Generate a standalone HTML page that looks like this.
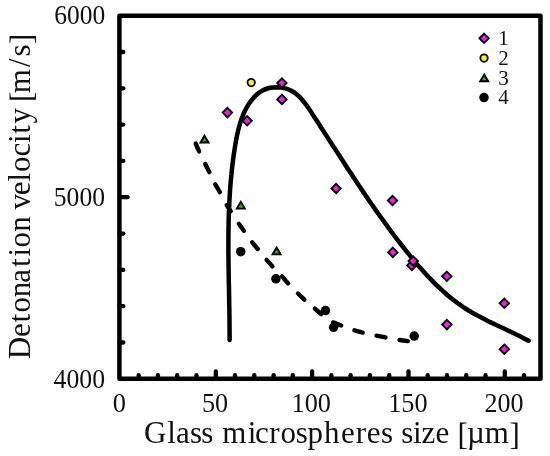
<!DOCTYPE html>
<html><head><meta charset="utf-8"><title>Detonation velocity vs glass microspheres size</title>
<style>
html,body{margin:0;padding:0;background:#fff;}
body{width:550px;height:456px;overflow:hidden;}
svg{display:block;}
text{font-family:"Liberation Serif",serif;fill:#111;}
</style></head><body>
<svg width="550" height="456" viewBox="0 0 550 456">
<rect width="550" height="456" fill="#fff"/>

<g stroke="#000" stroke-width="4.3" stroke-linecap="round">
<line x1="138.7" y1="378.8" x2="138.7" y2="375.2"/>
<line x1="157.9" y1="378.8" x2="157.9" y2="375.2"/>
<line x1="177.2" y1="378.8" x2="177.2" y2="375.2"/>
<line x1="196.5" y1="378.8" x2="196.5" y2="375.2"/>
<line x1="215.8" y1="378.8" x2="215.8" y2="371.5"/>
<line x1="235.0" y1="378.8" x2="235.0" y2="375.2"/>
<line x1="254.3" y1="378.8" x2="254.3" y2="375.2"/>
<line x1="273.6" y1="378.8" x2="273.6" y2="375.2"/>
<line x1="292.8" y1="378.8" x2="292.8" y2="375.2"/>
<line x1="312.1" y1="378.8" x2="312.1" y2="371.5"/>
<line x1="331.4" y1="378.8" x2="331.4" y2="375.2"/>
<line x1="350.6" y1="378.8" x2="350.6" y2="375.2"/>
<line x1="369.9" y1="378.8" x2="369.9" y2="375.2"/>
<line x1="389.2" y1="378.8" x2="389.2" y2="375.2"/>
<line x1="408.5" y1="378.8" x2="408.5" y2="371.5"/>
<line x1="427.7" y1="378.8" x2="427.7" y2="375.2"/>
<line x1="447.0" y1="378.8" x2="447.0" y2="375.2"/>
<line x1="466.3" y1="378.8" x2="466.3" y2="375.2"/>
<line x1="485.5" y1="378.8" x2="485.5" y2="375.2"/>
<line x1="504.8" y1="378.8" x2="504.8" y2="371.5"/>
<line x1="524.1" y1="378.8" x2="524.1" y2="375.2"/>
<line x1="119.4" y1="52.0" x2="123.3" y2="52.0"/>
<line x1="119.4" y1="88.3" x2="123.3" y2="88.3"/>
<line x1="119.4" y1="124.6" x2="123.3" y2="124.6"/>
<line x1="119.4" y1="160.9" x2="123.3" y2="160.9"/>
<line x1="119.4" y1="197.2" x2="127.6" y2="197.2"/>
<line x1="119.4" y1="233.6" x2="123.3" y2="233.6"/>
<line x1="119.4" y1="269.9" x2="123.3" y2="269.9"/>
<line x1="119.4" y1="306.2" x2="123.3" y2="306.2"/>
<line x1="119.4" y1="342.5" x2="123.3" y2="342.5"/>
</g>
<rect x="119.4" y="15.7" width="421.1" height="363.1" fill="none" stroke="#000" stroke-width="4.5" stroke-linejoin="round"/>
<g stroke="#000" stroke-width="4.4" stroke-linecap="round">
<line x1="195.7" y1="143.6" x2="199.1" y2="151.4"/>
<line x1="205.3" y1="164.0" x2="209.3" y2="172.1"/>
<line x1="215.2" y1="184.3" x2="219.9" y2="192.1"/>
<line x1="226.7" y1="205.1" x2="230.7" y2="211.2"/>
<line x1="238.8" y1="223.7" x2="243.9" y2="230.8"/>
<line x1="252.3" y1="242.3" x2="257.7" y2="249.0"/>
<line x1="266.6" y1="259.9" x2="272.4" y2="266.4"/>
<line x1="282.1" y1="276.4" x2="288.0" y2="283.4"/>
<line x1="298.0" y1="293.5" x2="304.4" y2="299.7"/>
<line x1="314.9" y1="308.7" x2="321.2" y2="314.0"/>
<line x1="333.2" y1="322.4" x2="341.2" y2="325.5"/>
<line x1="354.4" y1="330.3" x2="362.7" y2="332.6"/>
<line x1="376.5" y1="335.7" x2="385.5" y2="337.4"/>
<line x1="399.5" y1="340.0" x2="407.8" y2="341.1"/>
</g>
<path d="M229.6,340.0 C229.6,338.8 229.6,335.1 229.6,332.7 C229.6,330.3 229.6,327.9 229.5,325.5 C229.5,323.1 229.5,320.6 229.5,318.2 C229.4,315.8 229.4,313.4 229.4,311.0 C229.3,308.6 229.3,306.2 229.2,303.8 C229.2,301.4 229.2,299.0 229.1,296.6 C229.1,294.2 229.0,291.8 229.0,289.4 C228.9,287.0 228.9,284.6 228.8,282.2 C228.8,279.8 228.8,277.4 228.7,275.0 C228.7,272.6 228.6,270.3 228.6,267.9 C228.6,265.5 228.5,263.1 228.5,260.7 C228.5,258.3 228.5,255.9 228.4,253.5 C228.4,251.1 228.4,248.8 228.4,246.4 C228.4,244.0 228.4,241.6 228.4,239.2 C228.4,236.8 228.4,234.4 228.5,232.1 C228.5,229.7 228.5,227.3 228.6,224.9 C228.6,222.5 228.7,220.1 228.7,217.8 C228.8,215.4 228.9,213.0 229.0,210.6 C229.1,208.2 229.2,205.8 229.3,203.4 C229.4,201.1 229.5,198.7 229.7,196.3 C229.8,193.9 230.0,191.5 230.1,189.1 C230.3,186.7 230.5,184.3 230.7,181.9 C230.9,179.6 231.1,177.2 231.4,174.8 C231.6,172.4 231.8,170.0 232.1,167.6 C232.4,165.2 232.7,162.8 233.0,160.4 C233.3,158.0 233.6,155.6 234.0,153.2 C234.4,150.8 234.7,148.4 235.1,146.0 C235.5,143.6 235.9,141.2 236.4,138.8 C236.8,136.4 237.3,134.0 237.9,131.6 C238.4,129.3 239.0,126.9 239.7,124.6 C240.4,122.3 241.1,120.0 241.9,117.8 C242.8,115.5 243.7,113.3 244.7,111.2 C245.8,109.1 246.9,107.0 248.2,105.0 C249.4,103.0 250.8,101.1 252.4,99.2 C253.9,97.4 255.6,95.6 257.4,94.1 C259.2,92.6 261.2,91.2 263.3,90.1 C265.5,89.1 267.8,88.3 270.1,87.8 C272.5,87.3 274.9,87.2 277.3,87.2 C279.7,87.3 282.2,87.6 284.4,88.1 C286.7,88.7 289.0,89.5 291.0,90.6 C293.1,91.6 295.0,92.9 296.7,94.4 C298.5,95.8 300.1,97.5 301.7,99.2 C303.3,101.0 304.7,102.9 306.2,104.8 C307.6,106.8 308.9,108.8 310.3,110.8 C311.7,112.9 313.0,115.0 314.3,117.0 C315.6,119.0 317.0,121.1 318.3,123.1 C319.6,125.2 320.9,127.2 322.2,129.3 C323.6,131.3 324.9,133.3 326.2,135.4 C327.5,137.4 328.8,139.4 330.1,141.5 C331.4,143.5 332.7,145.5 334.0,147.5 C335.3,149.6 336.7,151.6 338.0,153.6 C339.3,155.6 340.6,157.6 341.9,159.6 C343.2,161.6 344.5,163.6 345.8,165.7 C347.1,167.7 348.4,169.7 349.7,171.6 C351.0,173.6 352.3,175.6 353.7,177.6 C355.0,179.6 356.3,181.6 357.6,183.6 C358.9,185.6 360.3,187.5 361.6,189.5 C362.9,191.5 364.3,193.5 365.6,195.4 C366.9,197.4 368.3,199.4 369.6,201.3 C371.0,203.3 372.3,205.2 373.7,207.2 C375.1,209.1 376.4,211.1 377.8,213.0 C379.2,215.0 380.6,216.9 382.0,218.8 C383.4,220.8 384.8,222.7 386.2,224.6 C387.6,226.6 389.0,228.5 390.4,230.4 C391.8,232.3 393.3,234.2 394.7,236.1 C396.2,238.0 397.6,240.0 399.1,241.9 C400.5,243.8 402.0,245.6 403.5,247.5 C405.0,249.4 406.5,251.3 408.0,253.2 C409.5,255.1 411.0,256.9 412.6,258.8 C414.1,260.7 415.7,262.5 417.2,264.4 C418.8,266.2 420.4,268.0 422.0,269.8 C423.6,271.6 425.2,273.4 426.9,275.2 C428.5,277.0 430.2,278.7 431.8,280.4 C433.5,282.2 435.2,283.9 436.9,285.5 C438.7,287.2 440.4,288.8 442.2,290.4 C444.0,292.0 445.7,293.6 447.6,295.2 C449.4,296.7 451.2,298.2 453.1,299.7 C455.0,301.2 456.9,302.6 458.8,304.0 C460.8,305.3 462.7,306.7 464.7,308.0 C466.7,309.3 468.7,310.5 470.8,311.8 C472.8,313.0 474.9,314.1 477.0,315.3 C479.1,316.4 481.2,317.5 483.3,318.6 C485.4,319.7 487.6,320.8 489.7,321.9 C491.9,322.9 494.1,323.9 496.2,325.0 C498.4,326.0 500.6,327.0 502.8,328.1 C504.9,329.1 507.1,330.1 509.3,331.1 C511.5,332.2 513.7,333.2 515.8,334.2 C518.0,335.3 520.1,336.3 522.3,337.4 C524.4,338.5 527.6,340.2 528.6,340.7" fill="none" stroke="#000" stroke-width="4.5" stroke-linecap="round" stroke-linejoin="round"/>
<g fill="#ee22dd" stroke="#000" stroke-width="1.9" stroke-linejoin="miter">
<path d="M227.4,107.9 L232.1,112.6 L227.4,117.3 L222.7,112.6 Z"/>
<path d="M247.1,116.1 L251.8,120.8 L247.1,125.5 L242.4,120.8 Z"/>
<path d="M281.9,78.3 L286.6,83.0 L281.9,87.7 L277.2,83.0 Z"/>
<path d="M281.9,94.7 L286.6,99.4 L281.9,104.1 L277.2,99.4 Z"/>
<path d="M336.1,183.8 L340.8,188.5 L336.1,193.2 L331.4,188.5 Z"/>
<path d="M392.5,195.8 L397.2,200.5 L392.5,205.2 L387.8,200.5 Z"/>
<path d="M392.8,247.7 L397.5,252.4 L392.8,257.1 L388.1,252.4 Z"/>
<path d="M411.8,260.7 L416.5,265.4 L411.8,270.1 L407.1,265.4 Z"/>
<path d="M413.2,256.3 L417.9,261.0 L413.2,265.7 L408.5,261.0 Z"/>
<path d="M446.8,271.6 L451.5,276.3 L446.8,281.0 L442.1,276.3 Z"/>
<path d="M446.9,319.9 L451.6,324.6 L446.9,329.3 L442.2,324.6 Z"/>
<path d="M504.3,298.6 L509.0,303.3 L504.3,308.0 L499.6,303.3 Z"/>
<path d="M504.3,344.5 L509.0,349.2 L504.3,353.9 L499.6,349.2 Z"/>
<path d="M484.1,33.6 L488.8,38.3 L484.1,43.0 L479.4,38.3 Z"/>
</g>
<g fill="#22b033" stroke="#000" stroke-width="1.9" stroke-linejoin="miter">
<path d="M204.5,135.7 L208.5,142.5 L200.5,142.5 Z"/>
<path d="M240.8,201.8 L244.8,208.6 L236.8,208.6 Z"/>
<path d="M276.6,247.6 L280.6,254.4 L272.6,254.4 Z"/>
<path d="M484.2,74.5 L488.2,81.3 L480.2,81.3 Z"/>
</g>
<g fill="#f0f030" stroke="#000" stroke-width="1.8">
<circle cx="251.2" cy="82.6" r="3.7"/>
<circle cx="484.05" cy="58.1" r="3.7"/>
</g>
<g fill="#000">
<circle cx="240.7" cy="251.7" r="4.75"/>
<circle cx="275.9" cy="278.8" r="4.75"/>
<circle cx="325.5" cy="310.6" r="4.75"/>
<circle cx="333.6" cy="327.3" r="4.75"/>
<circle cx="414.2" cy="336.1" r="4.75"/>
<circle cx="484.0" cy="97.6" r="4.75"/>
</g>
<text x="54.2" y="24.4" font-size="27" text-anchor="start" textLength="51" lengthAdjust="spacingAndGlyphs">6000</text>
<text x="53.8" y="206.0" font-size="27" text-anchor="start" textLength="51.2" lengthAdjust="spacingAndGlyphs">5000</text>
<text x="53.6" y="388.0" font-size="27" text-anchor="start" textLength="51.4" lengthAdjust="spacingAndGlyphs">4000</text>
<text x="112.8" y="411.7" font-size="27" text-anchor="start" textLength="13.2" lengthAdjust="spacingAndGlyphs">0</text>
<text x="202.0" y="411.7" font-size="27" text-anchor="start" textLength="26.2" lengthAdjust="spacingAndGlyphs">50</text>
<text x="291.6" y="411.7" font-size="27" text-anchor="start" textLength="39.4" lengthAdjust="spacingAndGlyphs">100</text>
<text x="388.2" y="411.7" font-size="27" text-anchor="start" textLength="39.4" lengthAdjust="spacingAndGlyphs">150</text>
<text x="484.4" y="411.7" font-size="27" text-anchor="start" textLength="39" lengthAdjust="spacingAndGlyphs">200</text>
<text x="498.3" y="45.3" font-size="21" text-anchor="start" textLength="10.5" lengthAdjust="spacingAndGlyphs">1</text>
<text x="498.3" y="65.0" font-size="21" text-anchor="start" textLength="10.5" lengthAdjust="spacingAndGlyphs">2</text>
<text x="498.3" y="84.7" font-size="21" text-anchor="start" textLength="10.5" lengthAdjust="spacingAndGlyphs">3</text>
<text x="498.3" y="104.4" font-size="21" text-anchor="start" textLength="10.5" lengthAdjust="spacingAndGlyphs">4</text>
<text x="144.1 167.2 176.0 189.9 201.3 213.3 222.2 247.7 255.0 269.3 280.5 295.8 307.4 324.0 340.9 355.8 366.8 381.1 393.2 401.2 413.0 421.5 435.4 449.2 457.4 467.1 484.7 509.5" y="443.1 443.1 443.1 443.1 443.1 443.1 443.1 443.1 443.1 443.1 443.1 443.1 443.1 443.1 443.1 443.1 443.1 443.1 443.1 443.1 443.1 443.1 443.1 443.1 445.3 443.1 443.1 445.3" font-size="31">Glass microspheres size [µm]</text>
<g transform="translate(29.6,0) rotate(-90)">
<text x="-359.2 -337.1 -322.4 -312.4 -297.2 -282.7 -267.0 -256.6 -247.6 -231.7 -216.2 -209.4 -195.3 -181.5 -172.1 -156.4 -142.9 -133.8 -123.4 -107.9 -102.1 -93.2 -67.0 -56.4 -44.0" y="0.0 0.0 0.0 0.0 0.0 0.0 0.0 0.0 0.0 0.0 0.0 0.0 0.0 0.0 0.0 0.0 0.0 0.0 0.0 0.0 2.2 0.0 0.0 0.0 2.2" font-size="31">Detonation velocity [m/s]</text>
</g>
</svg></body></html>
